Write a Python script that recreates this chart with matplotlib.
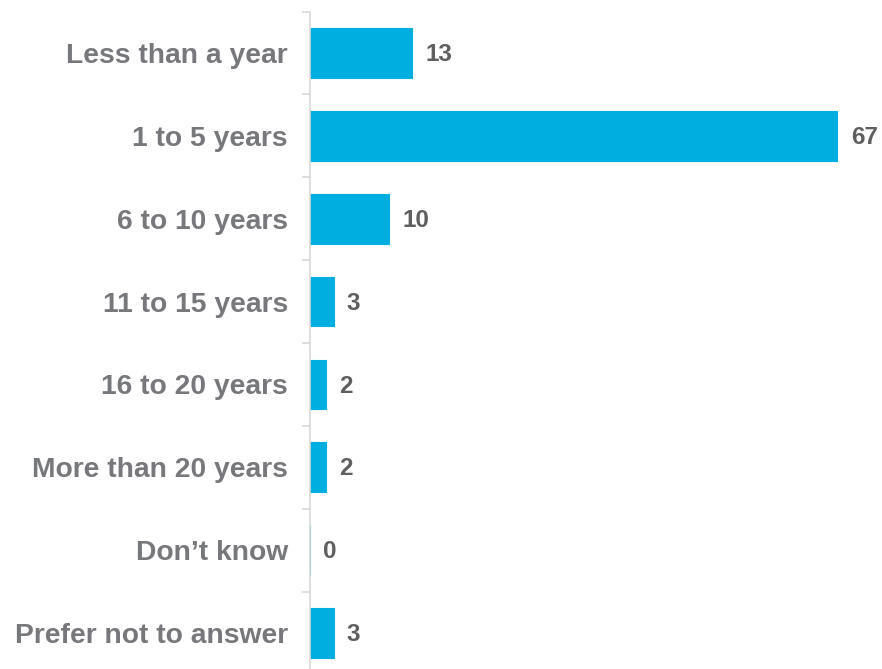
import matplotlib
matplotlib.use("Agg")
import matplotlib.pyplot as plt
import numpy as np

# Years-of-experience breakdown
categories = [
    "Less than a year",
    "1 to 5 years",
    "6 to 10 years",
    "11 to 15 years",
    "16 to 20 years",
    "More than 20 years",
    "Don\u2019t know",
    "Prefer not to answer",
]
values = [13, 67, 10, 3, 2, 2, 0, 3]

bar_color = "#00aee0"
label_color = "#77787b"
value_color = "#5f5f5f"
axis_color = "#d9d9d9"

plt.rcParams["font.family"] = ["Liberation Sans", "DejaVu Sans"]

fig = plt.figure(figsize=(8.82, 6.69), dpi=100)
# axes spans past the bottom edge a little, like the original export
ax = fig.add_axes([310 / 882, -5.5 / 669, 528 / 882, 663 / 669])

y = np.arange(len(categories))
ax.barh(y, values, height=0.6, color=bar_color, edgecolor=bar_color, linewidth=0.8)

for yi, v in zip(y, values):
    ax.annotate(str(v), (v, yi), xytext=(9.5, -1.2), textcoords="offset points",
                ha="left", va="center", fontsize=17.5, fontweight="bold",
                color=value_color, annotation_clip=False)

ax.set_xlim(0, 67)
ax.set_ylim(len(categories) - 0.5, -0.5)

ax.set_yticks(y)
ax.set_yticklabels(categories, fontsize=20.3, fontweight="bold", color=label_color)
ax.set_yticks(np.arange(len(categories) + 1) - 0.5, minor=True)
ax.tick_params(axis="y", which="major", length=0, pad=16)
ax.tick_params(axis="y", which="minor", length=6, width=1.2, color=axis_color)
ax.set_xticks([])

for side in ("top", "right", "bottom"):
    ax.spines[side].set_visible(False)
ax.spines["left"].set_color(axis_color)
ax.spines["left"].set_linewidth(1.2)

fig.savefig("out.png", dpi=100)
